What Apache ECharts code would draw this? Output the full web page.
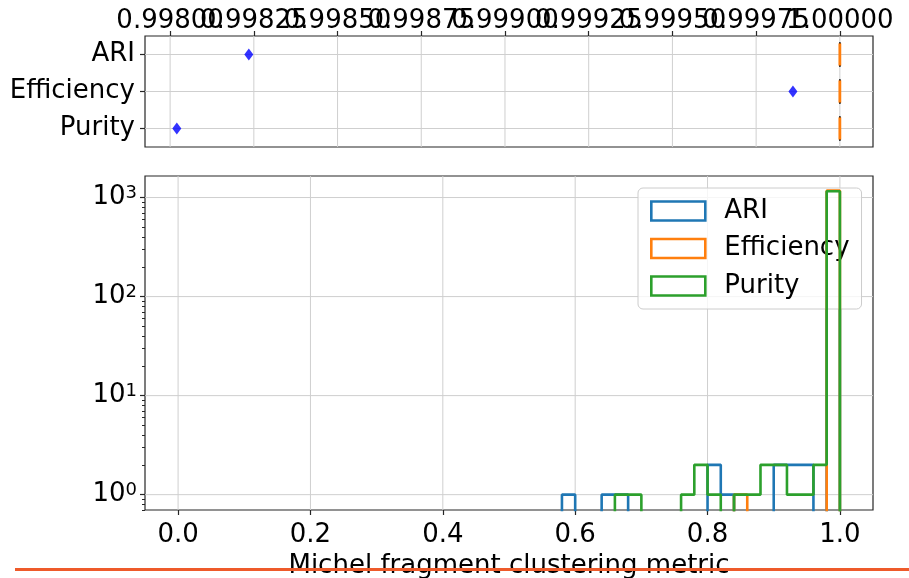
<!DOCTYPE html>
<html>
<head>
<meta charset="utf-8">
<script src="https://cdn.jsdelivr.net/npm/echarts@6/dist/echarts.min.js"></script>
<style>
html,body{margin:0;padding:0;background:#fff;}
#chart{width:909px;height:578px;}
</style>
</head>
<body>
<div id="chart"></div>
<script>
// ---------------- data ----------------
const categories = ['ARI', 'Efficiency', 'Purity'];
// box-plot statistics per category (min, Q1, median, Q3, max)
const boxMin    = [1.0, 1.0, 1.0];
const boxQ1     = [1.0, 1.0, 1.0];
const boxMedian = [1.0, 1.0, 1.0];
const boxQ3     = [1.0, 1.0, 1.0];
const boxMax    = [1.0, 1.0, 1.0];
// visible outliers (fliers)
const outlierCategory = ['ARI', 'Efficiency', 'Purity'];
const outlierValue    = [0.998235, 0.99986, 0.99802];

const topTicks    = [0.998, 0.99825, 0.9985, 0.99875, 0.999, 0.99925, 0.9995, 0.99975, 1.0];
const bottomTicks = [0.0, 0.2, 0.4, 0.6, 0.8, 1.0];
const yTicks      = [1, 10, 100, 1000];

// histogram bin edges (50 bins of width 0.02)
const binEdges = [0.00,0.02,0.04,0.06,0.08,0.10,0.12,0.14,0.16,0.18,
                  0.20,0.22,0.24,0.26,0.28,0.30,0.32,0.34,0.36,0.38,
                  0.40,0.42,0.44,0.46,0.48,0.50,0.52,0.54,0.56,0.58,
                  0.60,0.62,0.64,0.66,0.68,0.70,0.72,0.74,0.76,0.78,
                  0.80,0.82,0.84,0.86,0.88,0.90,0.92,0.94,0.96,0.98,1.00];
const ariCounts = [0,0,0,0,0,0,0,0,0,0,
                   0,0,0,0,0,0,0,0,0,0,
                   0,0,0,0,0,0,0,0,0,1,
                   0,0,1,1,0,0,0,0,0,0,
                   2,1,0,0,0,2,2,2,0,1163];
const efficiencyCounts = [0,0,0,0,0,0,0,0,0,0,
                   0,0,0,0,0,0,0,0,0,0,
                   0,0,0,0,0,0,0,0,0,0,
                   0,0,0,0,0,0,0,0,0,0,
                   0,0,1,0,0,0,0,0,0,1174];
const purityCounts = [0,0,0,0,0,0,0,0,0,0,
                   0,0,0,0,0,0,0,0,0,0,
                   0,0,0,0,0,0,0,0,0,0,
                   0,0,0,1,1,0,0,0,1,2,
                   1,0,1,1,2,2,1,1,2,1159];

const seriesNames  = ['ARI', 'Efficiency', 'Purity'];
const seriesColors = ['#1f77b4', '#ff7f0e', '#2ca02c'];

// ---------------- helpers ----------------
const FONT = 'DejaVu Sans';
const GRID_COLOR = '#cfcfcf';
const FRAME = '#262626';
const LOG_FLOOR = 0.01; // a log axis cannot show 0: empty bins drop below the axis

function stepData(counts) {
  const pts = [[binEdges[0], LOG_FLOOR]];
  for (let i = 0; i < counts.length; i++) {
    pts.push([binEdges[i], counts[i] > 0 ? counts[i] : LOG_FLOOR]);
  }
  const last = counts[counts.length - 1];
  pts.push([binEdges[binEdges.length - 1], last > 0 ? last : LOG_FLOOR]);
  pts.push([binEdges[binEdges.length - 1], LOG_FLOOR]);
  return pts;
}

// minor ticks for the log axis (2..9 x 10^k)
const minorTicks = [];
for (let k = -1; k <= 3; k++) {
  for (let m = 2; m <= 9; m++) {
    const v = m * Math.pow(10, k);
    if (v > 0.7 && v < 1650) minorTicks.push(v);
  }
}
// top tick labels overlap each other, so they are split over two stacked axes
const topTicksEven = topTicks.filter((v, i) => i % 2 === 0);
const topTicksOdd  = topTicks.filter((v, i) => i % 2 === 1);

function vGridSeries(xi, yi, values, yRef) {
  return {
    type: 'custom', xAxisIndex: xi, yAxisIndex: yi, z: 1, silent: true,
    data: values.map(v => [v, yRef]),
    renderItem: function (params, api) {
      const p = api.coord([api.value(0), api.value(1)]);
      const cs = params.coordSys;
      return { type: 'line', shape: { x1: p[0], y1: cs.y, x2: p[0], y2: cs.y + cs.height },
               style: { stroke: GRID_COLOR, lineWidth: 1 } };
    }
  };
}
function hGridSeries(xi, yi, values, xRef) {
  return {
    type: 'custom', xAxisIndex: xi, yAxisIndex: yi, z: 1, silent: true,
    data: values.map(v => [xRef, v]),
    renderItem: function (params, api) {
      const p = api.coord([api.value(0), api.value(1)]);
      const cs = params.coordSys;
      return { type: 'line', shape: { x1: cs.x, y1: p[1], x2: cs.x + cs.width, y2: p[1] },
               style: { stroke: GRID_COLOR, lineWidth: 1 } };
    }
  };
}

const boxData = categories.map((c, i) => [i, boxMin[i], boxQ1[i], boxMedian[i], boxQ3[i], boxMax[i]]);

const boxSeries = {
  type: 'custom', xAxisIndex: 0, yAxisIndex: 0, z: 3,
  data: boxData,
  renderItem: function (params, api) {
    const c = api.value(0);
    const pMin = api.coord([api.value(1), c]);
    const pQ1  = api.coord([api.value(2), c]);
    const pMed = api.coord([api.value(3), c]);
    const pQ3  = api.coord([api.value(4), c]);
    const pMax = api.coord([api.value(5), c]);
    const band = api.size([0, 1])[1];
    const hh = band * 0.3;   // half box height
    const ch = band * 0.15;  // half cap height
    const y = pMed[1];
    const blk = { stroke: '#000', lineWidth: 1.6, lineCap: 'square' };
    return { type: 'group', children: [
      { type: 'line', shape: { x1: pMin[0], y1: y, x2: pQ1[0], y2: y }, style: blk },
      { type: 'line', shape: { x1: pQ3[0], y1: y, x2: pMax[0], y2: y }, style: blk },
      { type: 'line', shape: { x1: pMin[0], y1: y - ch, x2: pMin[0], y2: y + ch }, style: blk },
      { type: 'line', shape: { x1: pMax[0], y1: y - ch, x2: pMax[0], y2: y + ch }, style: blk },
      { type: 'line', shape: { x1: pQ1[0], y1: y - hh, x2: pQ3[0], y2: y - hh }, style: blk },
      { type: 'line', shape: { x1: pQ1[0], y1: y + hh, x2: pQ3[0], y2: y + hh }, style: blk },
      { type: 'line', shape: { x1: pQ1[0], y1: y - hh, x2: pQ1[0], y2: y + hh }, style: blk },
      { type: 'line', shape: { x1: pQ3[0], y1: y - hh, x2: pQ3[0], y2: y + hh }, style: blk },
      { type: 'line', shape: { x1: pMed[0], y1: y - hh, x2: pMed[0], y2: y + hh },
        style: { stroke: '#ff7f0e', lineWidth: 2.8, lineCap: 'butt' } }
    ]};
  }
};

const flierSeries = {
  type: 'scatter', xAxisIndex: 0, yAxisIndex: 0, z: 4,
  symbol: 'diamond', symbolSize: [9, 12],
  itemStyle: { color: '#0000ff' },
  data: outlierValue.map((v, i) => [v, categories.indexOf(outlierCategory[i])])
};

const histSeries = seriesNames.map((name, k) => ({
  name: name, type: 'line', step: 'end', xAxisIndex: 1, yAxisIndex: 1, z: 3 + k,
  symbol: 'none', clip: true,
  lineStyle: { color: seriesColors[k], width: 2.6 },
  itemStyle: { color: seriesColors[k] },
  data: stepData([ariCounts, efficiencyCounts, purityCounts][k])
}));

const TOP_RECT = { left: 145, top: 36, width: 728, height: 111 };
const BOT_RECT = { left: 145, top: 176, width: 728, height: 334 };

function topXAxis(gridIndex, ticks) {
  return { gridIndex: gridIndex, type: 'value', position: 'top', min: 0.997925, max: 1.000099,
    axisLine: { show: false, onZero: false },
    axisTick: { show: true, customValues: ticks, length: 5, lineStyle: { color: FRAME, width: 1.2 } },
    axisLabel: { customValues: ticks, formatter: v => v.toFixed(5), fontSize: 26, color: '#000', margin: 2,
                 fontFamily: FONT, showMinLabel: true, showMaxLabel: true },
    splitLine: { show: false } };
}

const option = {
  animation: false,
  backgroundColor: '#ffffff',
  textStyle: { fontFamily: FONT },
  grid: [
    Object.assign({ show: true, borderColor: FRAME, borderWidth: 1.2, backgroundColor: 'rgba(0,0,0,0)', outerBoundsMode: 'none', containLabel: false }, TOP_RECT),
    Object.assign({ show: true, borderColor: FRAME, borderWidth: 1.2, backgroundColor: 'rgba(0,0,0,0)', outerBoundsMode: 'none', containLabel: false }, BOT_RECT),
    Object.assign({ show: false, outerBoundsMode: 'none', containLabel: false }, BOT_RECT),
    Object.assign({ show: false, outerBoundsMode: 'none', containLabel: false }, TOP_RECT)
  ],
  xAxis: [
    topXAxis(0, topTicksEven),
    { gridIndex: 1, type: 'value', min: -0.05, max: 1.05,
      axisLine: { show: false, onZero: false },
      axisTick: { show: true, customValues: bottomTicks, length: 5, lineStyle: { color: FRAME, width: 1.2 } },
      axisLabel: { customValues: bottomTicks, formatter: v => v.toFixed(1), fontSize: 26, color: '#000', margin: 12,
                   fontFamily: FONT, showMinLabel: true, showMaxLabel: true },
      splitLine: { show: false },
      name: 'Michel fragment clustering metric', nameLocation: 'middle', nameGap: 36,
      nameTextStyle: { fontSize: 26, color: '#000', fontFamily: FONT } },
    { gridIndex: 2, type: 'value', min: -0.05, max: 1.05, show: false },
    topXAxis(3, topTicksOdd)
  ],
  yAxis: [
    { gridIndex: 0, type: 'category', data: categories, inverse: true,
      axisLine: { show: false, onZero: false },
      axisTick: { show: true, alignWithLabel: true, length: 5, lineStyle: { color: FRAME, width: 1.2 } },
      axisLabel: { fontSize: 26, color: '#000', margin: 10, fontFamily: FONT, padding: [5, 0, 0, 0] },
      splitLine: { show: false } },
    { gridIndex: 1, type: 'log', logBase: 10, min: 0.7, max: 1650,
      axisLine: { show: false, onZero: false },
      axisTick: { show: true, customValues: yTicks, length: 5, lineStyle: { color: FRAME, width: 1.2 } },
      axisLabel: { customValues: yTicks, margin: 8, color: '#000', showMinLabel: true, showMaxLabel: true,
        formatter: v => '{b|10}{e|' + Math.round(Math.log10(v)) + '}',
        rich: { b: { fontSize: 26, fontFamily: FONT, color: '#000' },
                e: { fontSize: 18, fontFamily: FONT, color: '#000', verticalAlign: 'top' } } },
      splitLine: { show: false }, minorTick: { show: false } },
    { gridIndex: 2, type: 'log', logBase: 10, min: 0.7, max: 1650, position: 'left',
      axisLine: { show: false, onZero: false },
      axisTick: { show: true, customValues: minorTicks, length: 3, lineStyle: { color: FRAME, width: 1 } },
      axisLabel: { show: false }, splitLine: { show: false } },
    { gridIndex: 3, type: 'category', data: categories, inverse: true, show: false }
  ],
  legend: {
    orient: 'vertical', left: 638, top: 188,
    padding: [10, 12, 10, 12], itemWidth: 54, itemHeight: 19, itemGap: 11.5,
    backgroundColor: 'rgba(255,255,255,0.8)', borderColor: '#cccccc', borderWidth: 1, borderRadius: 5,
    textStyle: { fontSize: 26, color: '#000', fontFamily: FONT, padding: [0, 0, 0, 14] },
    data: seriesNames.map((n, k) => ({ name: n, icon: 'rect',
      itemStyle: { color: 'rgba(0,0,0,0)', borderColor: seriesColors[k], borderWidth: 2.6 } }))
  },
  graphic: [
    { type: 'line', z: 100, shape: { x1: 15, y1: 569.5, x2: 909, y2: 569.5 },
      style: { stroke: '#ee5a2a', lineWidth: 3 } }
  ],
  series: [
    vGridSeries(0, 0, topTicks, 0),
    hGridSeries(0, 0, categories.map((c, i) => i), 0.999),
    vGridSeries(1, 1, bottomTicks, 1),
    hGridSeries(1, 1, yTicks, 0.5),
    boxSeries,
    flierSeries
  ].concat(histSeries)
};

const chart = echarts.init(document.getElementById('chart'), null, { renderer: 'canvas' });
chart.setOption(option);
</script>
</body>
</html>
